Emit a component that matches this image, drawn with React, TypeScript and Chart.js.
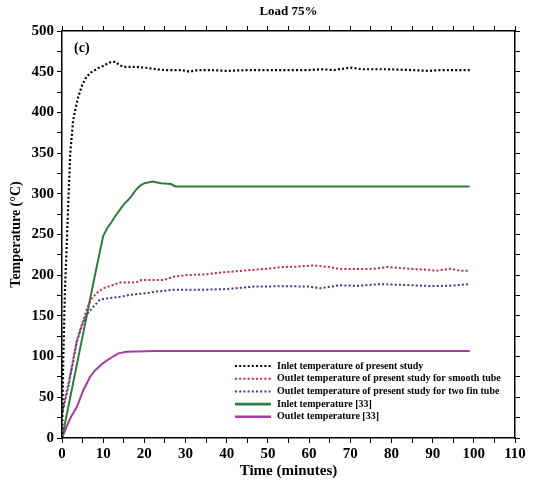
import { useEffect, useRef } from "react";
import { Chart, registerables } from "chart.js";

Chart.register(...registerables);

// ---- data ----
const inletPresentTime = [0, 0.3, 0.7, 1.1, 1.5, 2, 2.7, 3.5, 4, 5, 6, 7, 8, 9, 10, 11, 12, 13, 14, 15, 18, 20, 23, 25, 29, 31, 33, 36, 40, 45, 50, 55, 60, 63, 66, 70, 73, 79, 85, 89, 92, 95, 99];
const inletPresentTemp = [0, 95, 180, 232, 285, 350, 390, 410, 420, 435, 444, 449, 452, 455, 457, 460, 462, 462, 458, 456, 456, 455, 453, 452, 452, 450, 452, 452, 451, 452, 452, 452, 452, 453, 452, 455, 453, 453, 452, 451, 452, 452, 452];

const outletSmoothTime = [0, 0.7, 1.5, 2.4, 3.6, 4.4, 5, 6, 7, 8.4, 10, 12.4, 14, 18, 19.3, 24.6, 27, 30, 35, 40, 45, 50, 53, 57, 61, 65, 67.5, 73, 76, 79, 82, 85.3, 88, 91, 94.2, 96.6, 99];
const outletSmoothTemp = [31, 48, 65, 88, 120, 133, 142, 158, 170, 178, 184, 188, 191, 191, 194, 194, 198, 200, 201, 204, 206, 208, 210, 210.5, 212, 210, 207.5, 207.5, 208, 210, 209, 207.5, 207, 205.6, 208, 205.6, 205.6];

const outletFinTime = [0, 0.7, 1.5, 2.4, 3.6, 4.4, 5, 6, 7.6, 9.2, 11.7, 14.9, 16.5, 20.6, 23, 27, 33.5, 40, 46.5, 55, 60, 62.6, 67.5, 72, 77.2, 83, 89.4, 94, 99];
const outletFinTemp = [28, 45, 62, 86, 118, 131, 140, 152, 161, 170, 172, 174, 176, 178, 180, 182, 182, 183, 186, 186.5, 186, 184, 187.6, 187, 189, 188, 186.7, 187, 189];

const inletRefTime = [0, 2, 4, 6, 8, 10, 11, 12, 13, 14, 15, 16, 17, 18, 19, 20, 22, 24, 26.5, 27.5, 99];
const inletRefTemp = [0, 50, 100, 150, 200, 248, 258, 265, 273, 280, 287, 292, 298, 305, 310, 313, 315, 313, 312, 309, 309];

const outletRefTime = [0, 1.1, 2.2, 3.6, 5.2, 6.8, 8, 10, 11.7, 13.7, 15.7, 22.6, 99];
const outletRefTemp = [0, 14, 26, 38, 59, 75, 83, 92, 98, 104, 106, 107, 107];

const seriesLabels = [
  "Inlet temperature of present study",
  "Outlet temperature of present study for smooth tube",
  "Outlet temperature of present study for two fin tube",
  "Inlet temperature [33]",
  "Outlet temperature [33]",
];

const xMin = 0;
const xMax = 110;
const xStep = 5;
const xLabelStep = 10;
const yMin = 0;
const yMax = 500;
const yStep = 25;
const yLabelStep = 50;

const chartTitle = "Load 75%";
const panelLabel = "(c)";
const xTitle = "Time (minutes)";
const yTitle = "Temperature (°C)";

const FONT = "'Liberation Serif', 'Times New Roman', serif";

const pts = (t: number[], v: number[]) => t.map((x, i) => ({ x, y: v[i] }));

const legendPlugin = {
  id: "customLegend",
  afterDraw(chart: any) {
    const { ctx, chartArea } = chart;
    ctx.save();
    // panel label
    ctx.fillStyle = "#000";
    ctx.font = `bold 14px ${FONT}`;
    ctx.textBaseline = "middle";
    ctx.textAlign = "left";
    ctx.fillText(panelLabel, chartArea.left + 12, chartArea.top + 17);

    const x0 = chartArea.left + 173;
    const x1 = chartArea.left + 209;
    const tx = chartArea.left + 215;
    let y = chartArea.top + 335;
    const dy = 12.7;
    ctx.font = `bold 10px ${FONT}`;
    chart.data.datasets.forEach((ds: any) => {
      ctx.beginPath();
      ctx.strokeStyle = ds.borderColor;
      ctx.lineWidth = ds.legendWidth;
      ctx.setLineDash(ds.borderDash || []);
      ctx.moveTo(x0, y);
      ctx.lineTo(x1, y);
      ctx.stroke();
      ctx.setLineDash([]);
      ctx.fillStyle = "#000";
      ctx.fillText(ds.label, tx, y);
      y += dy;
    });
    ctx.restore();
  },
};

export default function App() {
  const ref = useRef<HTMLCanvasElement | null>(null);

  useEffect(() => {
    document.body.style.margin = "0";
    if (!ref.current) return;
    const tickFont = { family: FONT, size: 15, weight: "bold" as const };
    const gridOpts = {
      drawOnChartArea: false,
      drawTicks: true,
      tickLength: 5,
      color: "#000",
      lineWidth: 1,
    };
    const borderOpts = { display: true, color: "#000", width: 1.5 };

    const chart = new Chart(ref.current, {
      type: "line",
      data: {
        datasets: [
          {
            label: seriesLabels[0],
            data: pts(inletPresentTime, inletPresentTemp),
            borderColor: "#000000",
            borderWidth: 2.2,
            borderDash: [2, 2.2],
            legendWidth: 2.2,
          },
          {
            label: seriesLabels[1],
            data: pts(outletSmoothTime, outletSmoothTemp),
            borderColor: "#c0283c",
            borderWidth: 2,
            borderDash: [2, 2.2],
            legendWidth: 2,
          },
          {
            label: seriesLabels[2],
            data: pts(outletFinTime, outletFinTemp),
            borderColor: "#343c96",
            borderWidth: 2,
            borderDash: [2, 2.2],
            legendWidth: 2,
          },
          {
            label: seriesLabels[3],
            data: pts(inletRefTime, inletRefTemp),
            borderColor: "#2f7d3c",
            borderWidth: 2,
            legendWidth: 2.6,
          },
          {
            label: seriesLabels[4],
            data: pts(outletRefTime, outletRefTemp),
            borderColor: "#a83c9e",
            borderWidth: 2,
            legendWidth: 2.6,
          },
        ] as any,
      },
      options: {
        animation: false,
        responsive: false,
        devicePixelRatio: 1,
        parsing: true,
        layout: { padding: 0 },
        elements: { point: { radius: 0 }, line: { tension: 0, fill: false } },
        plugins: {
          legend: { display: false },
          tooltip: { enabled: false },
          title: {
            display: true,
            text: chartTitle,
            fullSize: false,
            color: "#000",
            font: { family: FONT, size: 13, weight: "bold" },
            padding: { top: 4, bottom: 0 },
          },
        },
        scales: {
          x: {
            type: "linear",
            position: "bottom",
            min: xMin,
            max: xMax,
            ticks: {
              stepSize: xStep,
              autoSkip: false,
              maxRotation: 0,
              color: "#000",
              font: tickFont,
              padding: 2,
              callback: (v: any) => (Number(v) % xLabelStep === 0 ? String(v) : ""),
            },
            grid: gridOpts,
            border: borderOpts,
            title: {
              display: true,
              text: xTitle,
              color: "#000",
              font: { family: FONT, size: 15, weight: "bold" },
              padding: { top: 0, bottom: 9 },
            },
            afterFit: (s: any) => {
              s.height = 51;
            },
          },
          x2: {
            type: "linear",
            position: "top",
            min: xMin,
            max: xMax,
            ticks: { stepSize: xStep, display: false },
            grid: gridOpts,
            border: borderOpts,
            afterFit: (s: any) => {
              s.height = 11.4;
            },
          },
          y: {
            type: "linear",
            position: "left",
            min: yMin,
            max: yMax,
            ticks: {
              stepSize: yStep,
              autoSkip: false,
              color: "#000",
              font: tickFont,
              padding: 3,
              callback: (v: any) => (Number(v) % yLabelStep === 0 ? String(v) : ""),
            },
            grid: gridOpts,
            border: borderOpts,
            title: {
              display: true,
              text: yTitle,
              color: "#000",
              font: { family: FONT, size: 14, weight: "bold" },
              padding: { top: 8, bottom: 0 },
            },
            afterFit: (s: any) => {
              s.width = 62;
            },
          },
          y2: {
            type: "linear",
            position: "right",
            min: yMin,
            max: yMax,
            ticks: { stepSize: yStep, display: false },
            grid: gridOpts,
            border: borderOpts,
            afterFit: (s: any) => {
              s.width = 18;
            },
          },
        },
      } as any,
      plugins: [legendPlugin],
    });
    return () => chart.destroy();
  }, []);

  return (
    <div style={{ position: "absolute", left: 0, top: 0, width: 533, height: 489, background: "#fff" }}>
      <canvas ref={ref} width={533} height={489} style={{ width: 533, height: 489 }} />
    </div>
  );
}
